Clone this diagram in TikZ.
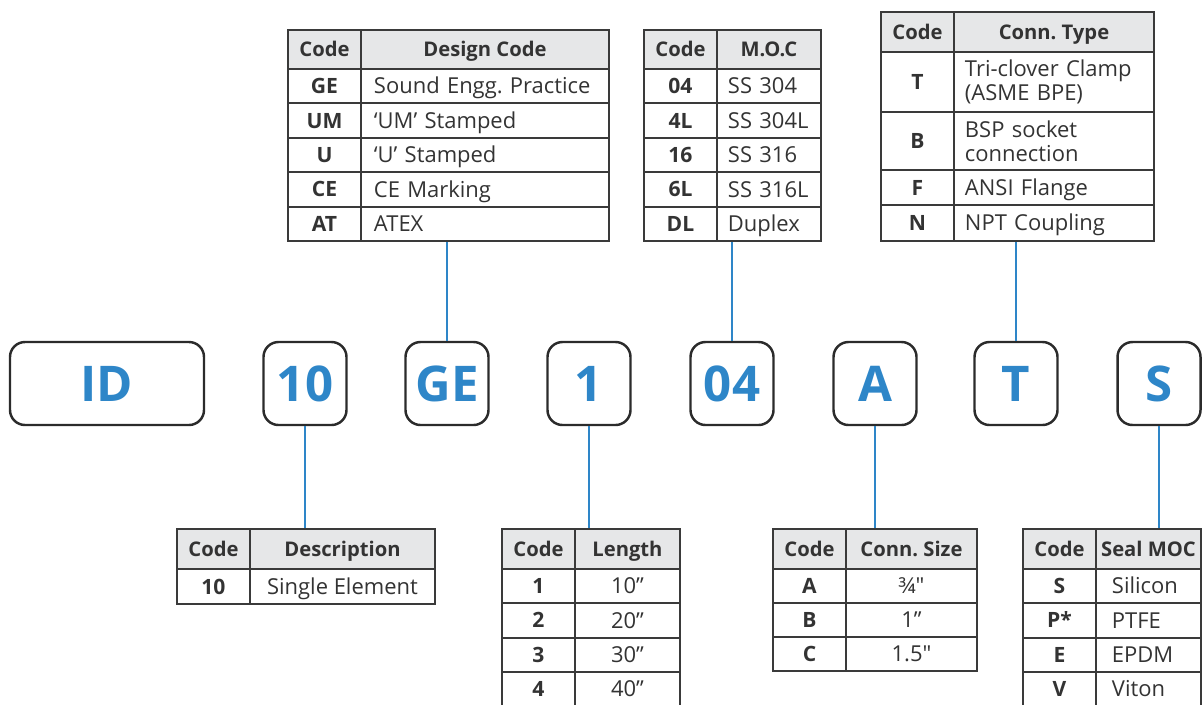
\documentclass[tikz,border=0pt]{standalone}
\usepackage{fontspec}
\setmainfont{Open Sans}
\frenchspacing

\definecolor{codeblue}{HTML}{2E86C8}
\definecolor{boxgray}{HTML}{2B2B2B}
\definecolor{tablegray}{HTML}{3A3A3A}
\definecolor{headfill}{HTML}{E6E7E8}
\definecolor{textgray}{HTML}{333333}

\newcommand{\px}{0.02cm}

\tikzset{
  codebox/.style={draw=boxgray, line width=1.4pt, rounded corners=15*\px, minimum width=83*\px,
    minimum height=83*\px, inner sep=0pt, text=codeblue, font=\fontsize{28}{30}\selectfont\bfseries,
    text height=20pt, text depth=0pt},
  cellbase/.style={draw=tablegray, line width=1.1pt, anchor=north west, inner sep=0pt, text=textgray, text depth=0pt},
  headcell/.style={cellbase, fill=headfill, font=\fontsize{11.5}{13}\selectfont\bfseries, text height=8.2pt},
  keycell/.style={cellbase, minimum width=73*\px, font=\fontsize{12}{13}\selectfont\bfseries, text height=8.6pt},
  valcell/.style={cellbase, font=\fontsize{12.5}{13.6}\selectfont, text height=8.9pt},
  desccell/.style={cellbase, align=left, inner xsep=#1*\px, font=\fontsize{12.5}{13.6}\selectfont, text height=8.9pt},
  twoline/.style={text height={}, text depth={}},
  oneline/.style={},
  link/.style={draw=codeblue, line width=1.15pt}
}

\begin{document}
\begin{tikzpicture}[x=0.02cm, y=-0.02cm]

    \useasboundingbox (0,0) rectangle (1202,704);

    % Caselle del codice
    \node[codebox, minimum width=194*\px] (bid) at (107,383.5) {ID};
    \node[codebox] (b10) at (305,383.5) {10};
    \node[codebox] (bge) at (447,383.5) {GE};
    \node[codebox] (bln) at (589,383.5) {1};
    \node[codebox] (bmc) at (732,383.5) {04};
    \node[codebox] (bcs) at (875,383.5) {A};
    \node[codebox] (bct) at (1016,383.5) {T};
    \node[codebox] (bsm) at (1159,383.5) {S};

    % Tabella Design Code
    \node[headcell, minimum width=73*\px, minimum height=39*\px] (dc-h1) at (287,29) {Code};
    \node[headcell, minimum width=248*\px, minimum height=39*\px] (dc-h2) at (360,29) {Design Code};
    \foreach \c/\d [count=\i] in {GE/Sound Engg. Practice, UM/‘UM’ Stamped, U/‘U’ Stamped, CE/CE Marking, AT/ATEX} {
      \node[keycell, minimum height=34.4*\px] (dc-c\i) at ({287},{68+34.4*(\i-1)}) {\c};
      \node[desccell=13, text width=222*\px, minimum height=34.4*\px] (dc-d\i) at ({360},{68+34.4*(\i-1)}) {\mbox{\d}};
    }

    % Tabella M.O.C
    \node[headcell, minimum width=73*\px, minimum height=39*\px] (mc-h1) at (643,29) {Code};
    \node[headcell, minimum width=104*\px, minimum height=39*\px] (mc-h2) at (716,29) {M.O.C};
    \foreach \c/\d [count=\i] in {04/SS 304, 4L/SS 304L, 16/SS 316, 6L/SS 316L, DL/Duplex} {
      \node[keycell, minimum height=34.4*\px] (mc-c\i) at ({643},{68+34.4*(\i-1)}) {\c};
      \node[desccell=11, text width=82*\px, minimum height=34.4*\px] (mc-d\i) at ({716},{68+34.4*(\i-1)}) {\mbox{\d}};
    }

    % Tabella Conn. Type
    \node[headcell, minimum width=73*\px, minimum height=40*\px] (ct-h1) at (880,11) {Code};
    \node[headcell, minimum width=200*\px, minimum height=40*\px] (ct-h2) at (953,11) {Conn. Type};
    \foreach \c/\d/\y/\h/\s [count=\i] in {T/{Tri-clover Clamp\\(ASME BPE)}/51/60/twoline, B/{BSP socket\\connection}/111/58/twoline,
                                           F/ANSI Flange/169/35/oneline, N/NPT Coupling/204/36/oneline} {
      \node[keycell, minimum height=\h*\px] (ct-c\i) at (880,\y) {\c};
      \node[desccell=11, \s, text width=178*\px, minimum height=\h*\px] (ct-d\i) at (953,\y) {\d};
    }

    % Tabella Description
    \node[headcell, minimum width=73*\px, minimum height=40*\px] (ds-h1) at (176,528) {Code};
    \node[headcell, minimum width=185*\px, minimum height=40*\px] (ds-h2) at (249,528) {Description};
    \node[keycell, minimum height=35*\px] (ds-c1) at (176,568) {10};
    \node[valcell, minimum width=185*\px, minimum height=35*\px] (ds-d1) at (249,568) {Single Element};

    % Tabella Length
    \node[headcell, minimum width=73*\px, minimum height=40*\px] (ln-h1) at (501,528) {Code};
    \node[headcell, minimum width=105*\px, minimum height=40*\px] (ln-h2) at (574,528) {Length};
    \foreach \c/\d [count=\i] in {1/10", 2/20", 3/30", 4/40"} {
      \node[keycell, minimum height=34.3*\px] (ln-c\i) at ({501},{568+34.3*(\i-1)}) {\c};
      \node[valcell, minimum width=105*\px, minimum height=34.3*\px] (ln-d\i) at ({574},{568+34.3*(\i-1)}) {\d};
    }

    % Tabella Conn. Size
    \node[headcell, minimum width=73*\px, minimum height=40*\px] (cs-h1) at (772,528) {Code};
    \node[headcell, minimum width=131*\px, minimum height=40*\px] (cs-h2) at (845,528) {Conn. Size};
    \foreach \c/\d [count=\i] in {A/¾″, B/1", C/1.5″} {
      \node[keycell, minimum height=34*\px] (cs-c\i) at ({772},{568+34*(\i-1)}) {\c};
      \node[valcell, minimum width=131*\px, minimum height=34*\px] (cs-d\i) at ({845},{568+34*(\i-1)}) {\d};
    }

    % Tabella Seal MOC
    \node[headcell, minimum width=73*\px, minimum height=40*\px] (sm-h1) at (1022,528) {Code};
    \node[headcell, minimum width=105*\px, minimum height=40*\px] (sm-h2) at (1095,528) {Seal MOC};
    \foreach \c/\d [count=\i] in {S/Silicon, P*/PTFE, E/EPDM, V/Viton} {
      \node[keycell, minimum height=34.3*\px] (sm-c\i) at ({1022},{568+34.3*(\i-1)}) {\c};
      \node[desccell=16, text width=73*\px, minimum height=34.3*\px] (sm-d\i) at ({1095},{568+34.3*(\i-1)}) {\d};
    }

    % Collegamenti
    \draw[link] (bge.north) -- (bge.north |- dc-d5.south);
    \draw[link] (bmc.north) -- (bmc.north |- mc-d5.south);
    \draw[link] (bct.north) -- (bct.north |- ct-d4.south);
    \draw[link] (b10.south) -- (b10.south |- ds-h2.north);
    \draw[link] (bln.south) -- (bln.south |- ln-h2.north);
    \draw[link] (bcs.south) -- (bcs.south |- cs-h2.north);
    \draw[link] (bsm.south) -- (bsm.south |- sm-h2.north);

\end{tikzpicture}
\end{document}
